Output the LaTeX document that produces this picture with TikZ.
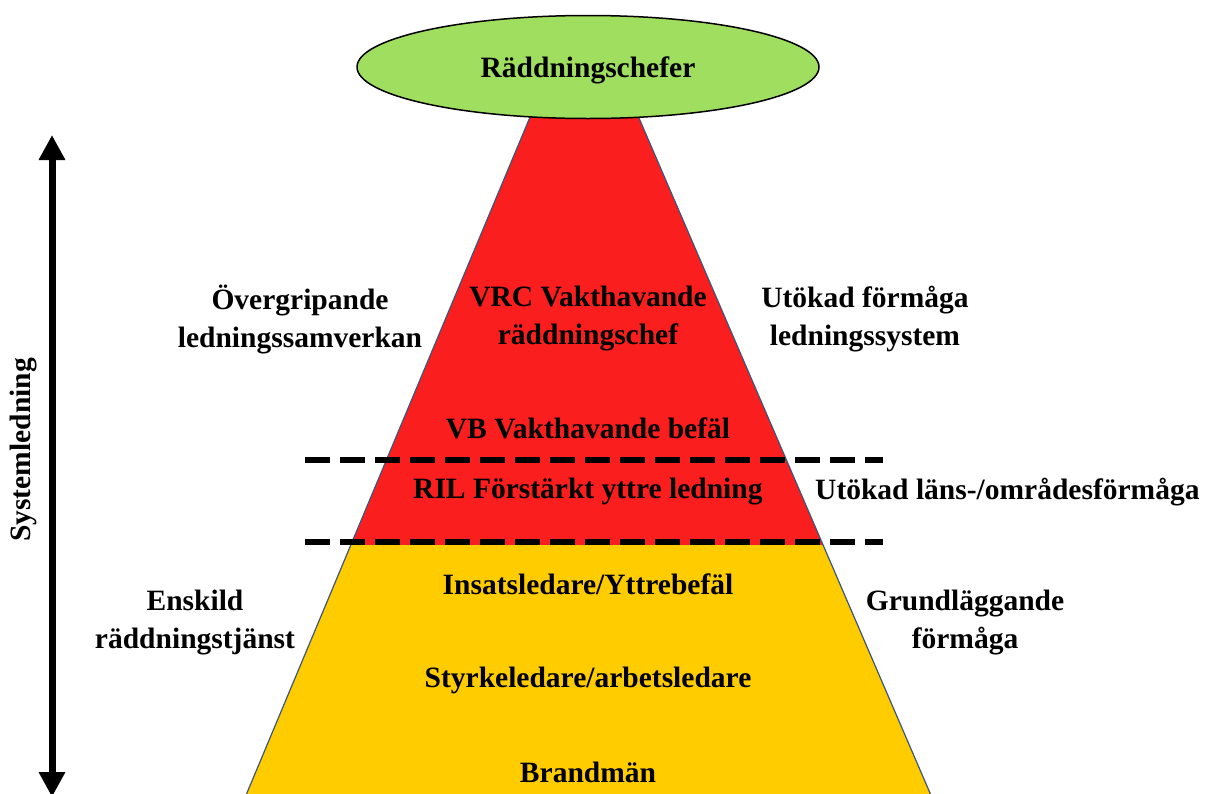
\documentclass[tikz,border=0pt]{standalone}
\usepackage{fontspec}
\setmainfont{Liberation Serif}
\usetikzlibrary{arrows.meta,shapes.geometric}
\definecolor{redband}{RGB}{250,30,30}
\definecolor{yellowband}{RGB}{255,204,0}
\definecolor{greenell}{RGB}{160,222,95}
\definecolor{greenlight}{RGB}{200,240,150}
\definecolor{edgeblue}{RGB}{60,85,120}
\tikzset{
  lbl/.style={font=\bfseries\fontsize{29.5}{38}\selectfont, align=center, text=black, inner sep=0pt},
  dashline/.style={line width=6pt, dash pattern=on 25pt off 10pt, black},
}
\begin{document}
\begin{tikzpicture}[x=1pt,y=-1pt]
\useasboundingbox (0,0) rectangle (1217,793);
\clip (0,0) rectangle (1217,793);
% pyramid bands
\fill[redband] (551,67) -- (617,67) -- (823,545) -- (351,545) -- cycle;
\fill[yellowband] (351,545) -- (823,545) -- (933,800) -- (244,800) -- cycle;
\draw[edgeblue, line width=1.2pt] (551,67) -- (244,800);
\draw[edgeblue, line width=1.2pt] (617,67) -- (933,800);
% ellipse
\node[ellipse, draw=black, line width=1.5pt, fill=greenell, minimum width=462pt, minimum height=103pt, inner sep=0pt] (top) at (588,67) {};
\node[lbl] (toplbl) at (588,70) {Räddningschefer};
% dashed lines
\coordinate (d1a) at (305,460); \coordinate (d1b) at (883,460);
\coordinate (d2a) at (305,542); \coordinate (d2b) at (883,542);
\draw[dashline] (d1a) -- (d1b);
\draw[dashline] (d2a) -- (d2b);
% arrow
\coordinate (arrTop) at (52,135);
\coordinate (arrBot) at (52,797);
\draw[line width=7pt, {Triangle[width=25pt,length=25pt]}-{Triangle[width=25pt,length=25pt]}] (arrTop) -- (arrBot);
\node[lbl, rotate=90] (sys) at (24,450) {Systemledning};
% labels
\node[lbl] (overgr) at (300,319) {Övergripande\\ledningssamverkan};
\node[lbl] (vrc) at (588,319) {VRC Vakthavande\\räddningschef};
\node[lbl] (utokf) at (865,319) {Utökad förmåga\\ledningssystem};
\node[lbl] (vb) at (588,428) {VB Vakthavande befäl};
\node[lbl, anchor=west] (ril) at (413,492) {RIL Förstärkt yttre ledning};
\node[lbl, anchor=west] (lans) at (815,492) {Utökad läns-/områdesförmåga};
\node[lbl] (insats) at (588,584) {Insatsledare/Yttrebefäl};
\node[lbl] (enskild) at (195,623) {Enskild\\räddningstjänst};
\node[lbl] (grund) at (965,623) {Grundläggande\\förmåga};
\node[lbl] (styrke) at (588,680) {Styrkeledare/arbetsledare};
\node[lbl] (brand) at (588,772) {Brandmän};
\end{tikzpicture}
\end{document}
